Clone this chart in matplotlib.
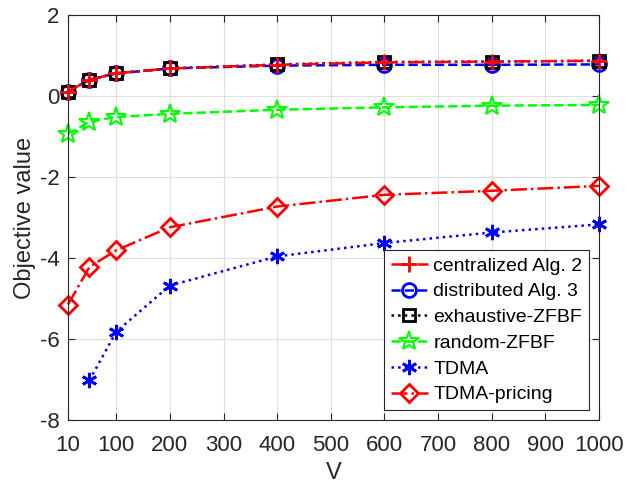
import matplotlib
matplotlib.use("Agg")
import matplotlib.pyplot as plt

plt.rcParams['font.family'] = ['Liberation Sans', 'DejaVu Sans']

V = [10, 50, 100, 200, 400, 600, 800, 1000]
V_tdma = [50, 100, 200, 400, 600, 800, 1000]
centralized = [0.11, 0.40, 0.56, 0.68, 0.77, 0.83, 0.85, 0.87]
distributed = [0.11, 0.40, 0.56, 0.68, 0.75, 0.77, 0.77, 0.78]
exhaustive = [0.11, 0.40, 0.56, 0.68, 0.78, 0.84, 0.85, 0.87]
random_zfbf = [-0.94, -0.63, -0.52, -0.44, -0.34, -0.28, -0.24, -0.22]
tdma = [-7.02, -5.82, -4.68, -3.96, -3.63, -3.37, -3.17]
tdma_pricing = [-5.15, -4.22, -3.81, -3.24, -2.73, -2.44, -2.34, -2.22]

xticks = [10, 100, 200, 300, 400, 500, 600, 700, 800, 900, 1000]
yticks = [-8, -6, -4, -2, 0, 2]

fig = plt.figure(figsize=(6.34, 4.87), dpi=100)
ax = fig.add_axes([68/634, 1-420/487, (599-68)/634, (420-15)/487])

lw = 1.8
kw = dict(clip_on=False)
ax.plot(V, centralized, color='red', ls='-.', lw=lw, marker='+', ms=11, mew=2, label='centralized Alg. 2', zorder=5, **kw)
ax.plot(V, distributed, color='blue', ls='--', lw=lw, marker='o', ms=10, mew=2, mfc='none', label='distributed Alg. 3', zorder=3, **kw)
ax.plot(V, exhaustive, color='black', ls=':', lw=lw, marker='s', ms=9, mew=2, mfc='none', label='exhaustive-ZFBF', zorder=4, **kw)
ax.plot(V, random_zfbf, color='#00ff00', ls='--', lw=lw, marker='*', ms=15, mew=1.5, mfc='none', label='random-ZFBF', **kw)
ax.plot(V_tdma, tdma, color='blue', ls=':', lw=lw, marker=(6, 2, 0), ms=11, mew=2, label='TDMA', **kw)
ax.plot(V, tdma_pricing, color='red', ls='-.', lw=lw, marker='D', ms=9, mew=2, mfc='none', label='TDMA-pricing', **kw)

ax.set_xlim(10, 1000)
ax.set_ylim(-8, 2)
ax.set_xticks(xticks)
ax.set_yticks(yticks)
ax.set_xticklabels([str(t) for t in xticks])
ax.set_yticklabels([str(t) for t in yticks])
ax.tick_params(direction='in', top=True, right=True, labelsize=16, length=5,
               colors='#262626')
ax.tick_params(axis='x', pad=11)
ax.tick_params(axis='y', pad=6)
ax.grid(True, color='#dfdfdf', lw=0.8)
ax.set_axisbelow(True)
for s in ax.spines.values():
    s.set_color('#262626')
    s.set_linewidth(0.8)
ax.set_xlabel('V', fontsize=17, color='#262626', labelpad=4)
ax.set_ylabel('Objective value', fontsize=17, color='#262626', labelpad=3)

leg = ax.legend(loc='lower right', fontsize=14, fancybox=False, framealpha=1,
                edgecolor='#262626', borderpad=0.35, labelspacing=0.42,
                handlelength=1.9, handletextpad=0.3, borderaxespad=0.5)
leg.get_frame().set_linewidth(0.8)

fig.savefig('out.png', dpi=100)
